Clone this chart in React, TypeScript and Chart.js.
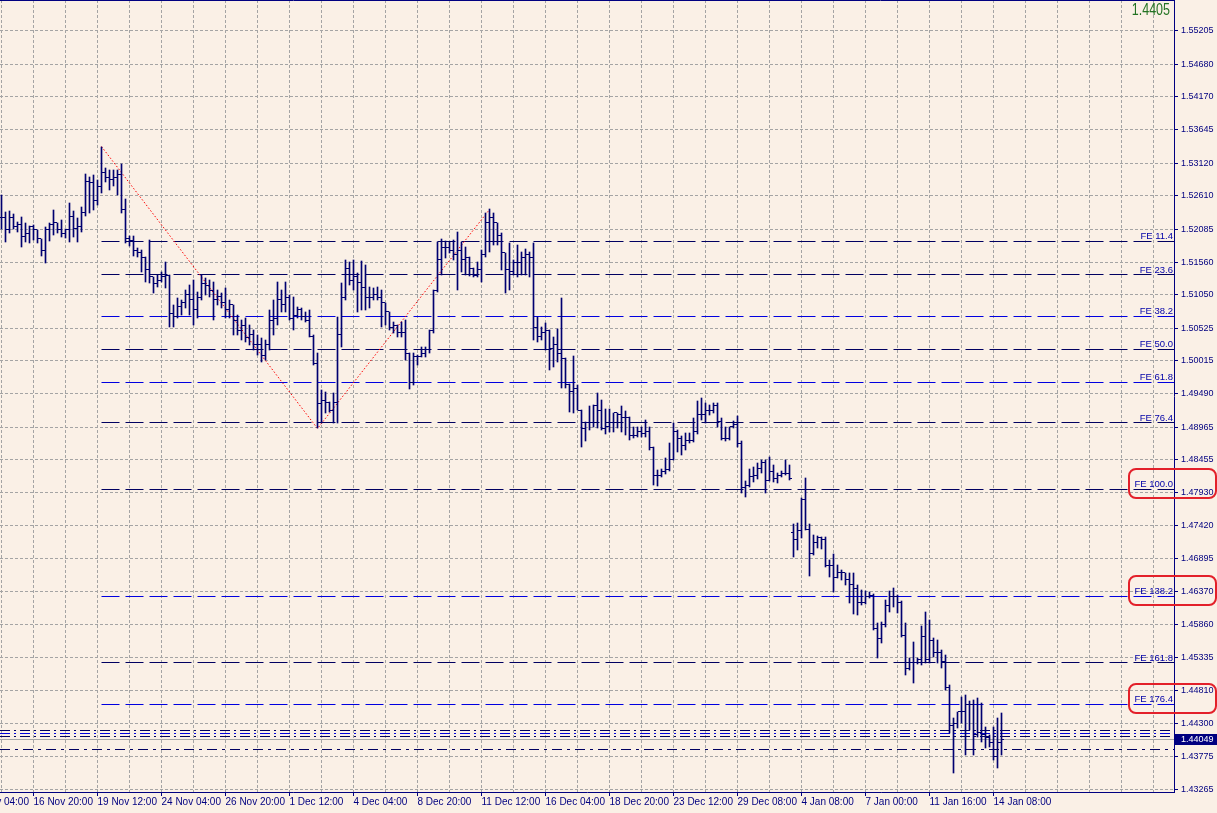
import React, { useEffect, useRef } from "react";
import { Chart, registerables } from "chart.js";

Chart.register(...registerables);

// ---------- data (H4 bars, oldest first) ----------
const opens: number[] = [
  1.5227, 1.5226, 1.5207, 1.5227, 1.5212, 1.5216, 1.5196, 1.5201, 1.5212, 1.5207,
  1.5193, 1.5174, 1.5207, 1.5215, 1.5218, 1.5207, 1.5202, 1.5207, 1.5229, 1.5210,
  1.5213, 1.5234, 1.5283, 1.5281, 1.5254, 1.5275, 1.5298, 1.5290, 1.5286, 1.5290,
  1.5294, 1.5240, 1.5193, 1.5191, 1.5174, 1.5171, 1.5163, 1.5144, 1.5133, 1.5123,
  1.5127, 1.5134, 1.5136, 1.5076, 1.5071, 1.5087, 1.5093, 1.5105, 1.5097, 1.5081,
  1.5100, 1.5123, 1.5119, 1.5112, 1.5097, 1.5103, 1.5093, 1.5081, 1.5089, 1.5065,
  1.5049, 1.5057, 1.5037, 1.5042, 1.5026, 1.5026, 1.5010, 1.5026, 1.5065, 1.5068,
  1.5097, 1.5089, 1.5101, 1.5068, 1.5073, 1.5081, 1.5071, 1.5065, 1.5040, 1.4996,
  1.4933, 1.4939, 1.4936, 1.4923, 1.4935, 1.5043, 1.5101, 1.5146, 1.5128, 1.5133,
  1.5125, 1.5116, 1.5101, 1.5101, 1.5105, 1.5101, 1.5092, 1.5078, 1.5054, 1.5056,
  1.5046, 1.5045, 1.5013, 1.4966, 1.5007, 1.5007, 1.5013, 1.5018, 1.5048, 1.5111,
  1.5160, 1.5179, 1.5180, 1.5175, 1.5169, 1.5175, 1.5160, 1.5164, 1.5146, 1.5136,
  1.5144, 1.5168, 1.5218, 1.5227, 1.5218, 1.5199, 1.5171, 1.5144, 1.5141, 1.5156,
  1.5156, 1.5163, 1.5168, 1.5163, 1.5054, 1.5040, 1.5045, 1.5049, 1.5021, 1.5026,
  1.5012, 1.5005, 1.4964, 1.4952, 1.4958, 1.4923, 1.4894, 1.4903, 1.4903, 1.4930,
  1.4923, 1.4895, 1.4897, 1.4903, 1.4919, 1.4916, 1.4911, 1.4911, 1.4884, 1.4884,
  1.4889, 1.4887, 1.4889, 1.4864, 1.4820, 1.4820, 1.4826, 1.4830, 1.4846, 1.4889,
  1.4878, 1.4868, 1.4875, 1.4876, 1.4890, 1.4916, 1.4916, 1.4923, 1.4923, 1.4931,
  1.4905, 1.4879, 1.4878, 1.4897, 1.4901, 1.4871, 1.4801, 1.4805, 1.4818, 1.4820,
  1.4832, 1.4840, 1.4813, 1.4826, 1.4816, 1.4820, 1.4824, 1.4824, 1.4731, 1.4719,
  1.4734, 1.4782, 1.4736, 1.4697, 1.4714, 1.4722, 1.4719, 1.4679, 1.4679, 1.4660,
  1.4667, 1.4667, 1.4656, 1.4648, 1.4643, 1.4620, 1.4621, 1.4629, 1.4632, 1.4580,
  1.4564, 1.4585, 1.4616, 1.4629, 1.4629, 1.4620, 1.4568, 1.4517, 1.4525, 1.4525,
  1.4530, 1.4566, 1.4530, 1.4561, 1.4542, 1.4541, 1.4527, 1.4487, 1.4427, 1.4430,
  1.4448, 1.4448, 1.4459, 1.4459, 1.4412, 1.4416, 1.4412, 1.4408, 1.4400, 1.4377,
  1.4400,
];

const highs: number[] = [
  1.5262, 1.5235, 1.5237, 1.5232, 1.5220, 1.5227, 1.5218, 1.5213, 1.5215, 1.5207,
  1.5193, 1.5212, 1.5218, 1.5238, 1.5218, 1.5223, 1.5209, 1.5250, 1.5237, 1.5226,
  1.5243, 1.5295, 1.5290, 1.5294, 1.5286, 1.5338, 1.5305, 1.5301, 1.5301, 1.5301,
  1.5311, 1.5256, 1.5198, 1.5198, 1.5179, 1.5175, 1.5164, 1.5191, 1.5133, 1.5136,
  1.5141, 1.5156, 1.5136, 1.5089, 1.5100, 1.5097, 1.5112, 1.5120, 1.5128, 1.5109,
  1.5136, 1.5131, 1.5128, 1.5125, 1.5112, 1.5108, 1.5116, 1.5097, 1.5089, 1.5073,
  1.5065, 1.5068, 1.5057, 1.5049, 1.5042, 1.5037, 1.5034, 1.5081, 1.5097, 1.5125,
  1.5112, 1.5125, 1.5105, 1.5101, 1.5086, 1.5084, 1.5078, 1.5081, 1.5042, 1.5013,
  1.4955, 1.4952, 1.4936, 1.4950, 1.5070, 1.5123, 1.5160, 1.5156, 1.5160, 1.5139,
  1.5158, 1.5152, 1.5117, 1.5116, 1.5117, 1.5112, 1.5092, 1.5078, 1.5062, 1.5057,
  1.5062, 1.5065, 1.5013, 1.5013, 1.5010, 1.5023, 1.5023, 1.5049, 1.5112, 1.5188,
  1.5193, 1.5190, 1.5188, 1.5191, 1.5204, 1.5188, 1.5180, 1.5164, 1.5147, 1.5156,
  1.5175, 1.5234, 1.5240, 1.5234, 1.5218, 1.5202, 1.5171, 1.5187, 1.5160, 1.5183,
  1.5172, 1.5177, 1.5172, 1.5187, 1.5070, 1.5054, 1.5060, 1.5049, 1.5038, 1.5051,
  1.5100, 1.5005, 1.4964, 1.5009, 1.4963, 1.4923, 1.4905, 1.4930, 1.4931, 1.4950,
  1.4939, 1.4925, 1.4925, 1.4919, 1.4919, 1.4930, 1.4922, 1.4912, 1.4897, 1.4897,
  1.4897, 1.4908, 1.4897, 1.4865, 1.4829, 1.4830, 1.4848, 1.4871, 1.4903, 1.4892,
  1.4882, 1.4887, 1.4887, 1.4911, 1.4938, 1.4942, 1.4935, 1.4931, 1.4935, 1.4935,
  1.4911, 1.4897, 1.4897, 1.4906, 1.4914, 1.4875, 1.4812, 1.4830, 1.4834, 1.4840,
  1.4845, 1.4845, 1.4849, 1.4837, 1.4824, 1.4827, 1.4845, 1.4837, 1.4744, 1.4746,
  1.4785, 1.4816, 1.4744, 1.4727, 1.4725, 1.4723, 1.4723, 1.4687, 1.4697, 1.4679,
  1.4671, 1.4667, 1.4667, 1.4667, 1.4648, 1.4640, 1.4638, 1.4637, 1.4634, 1.4588,
  1.4590, 1.4624, 1.4638, 1.4643, 1.4632, 1.4623, 1.4588, 1.4533, 1.4558, 1.4533,
  1.4583, 1.4605, 1.4593, 1.4564, 1.4561, 1.4545, 1.4538, 1.4490, 1.4438, 1.4448,
  1.4471, 1.4475, 1.4465, 1.4467, 1.4470, 1.4462, 1.4424, 1.4412, 1.4424, 1.4438,
  1.4446,
];

const lows: number[] = [
  1.5209, 1.5188, 1.5202, 1.5209, 1.5204, 1.5180, 1.5188, 1.5187, 1.5191, 1.5187,
  1.5166, 1.5155, 1.5190, 1.5199, 1.5202, 1.5196, 1.5194, 1.5188, 1.5196, 1.5188,
  1.5204, 1.5229, 1.5234, 1.5238, 1.5246, 1.5265, 1.5283, 1.5270, 1.5276, 1.5262,
  1.5234, 1.5187, 1.5182, 1.5166, 1.5164, 1.5141, 1.5125, 1.5123, 1.5108, 1.5117,
  1.5125, 1.5116, 1.5054, 1.5054, 1.5068, 1.5073, 1.5084, 1.5073, 1.5057, 1.5068,
  1.5097, 1.5105, 1.5101, 1.5065, 1.5089, 1.5084, 1.5068, 1.5068, 1.5042, 1.5042,
  1.5034, 1.5030, 1.5026, 1.5018, 1.5010, 1.4999, 1.5002, 1.5018, 1.5042, 1.5057,
  1.5078, 1.5078, 1.5065, 1.5049, 1.5068, 1.5065, 1.5062, 1.5038, 1.4994, 1.4895,
  1.4903, 1.4919, 1.4920, 1.4903, 1.4903, 1.5023, 1.5097, 1.5120, 1.5112, 1.5078,
  1.5081, 1.5081, 1.5084, 1.5097, 1.5097, 1.5054, 1.5057, 1.5049, 1.5045, 1.5038,
  1.5038, 1.5002, 1.4957, 1.4963, 1.4994, 1.5007, 1.5007, 1.5013, 1.5045, 1.5109,
  1.5136, 1.5163, 1.5171, 1.5160, 1.5112, 1.5141, 1.5136, 1.5134, 1.5133, 1.5133,
  1.5125, 1.5164, 1.5172, 1.5183, 1.5183, 1.5144, 1.5108, 1.5112, 1.5136, 1.5133,
  1.5136, 1.5136, 1.5133, 1.5034, 1.5030, 1.5034, 1.5018, 1.4986, 1.4991, 1.4999,
  1.4958, 1.4958, 1.4920, 1.4919, 1.4923, 1.4865, 1.4875, 1.4892, 1.4897, 1.4895,
  1.4892, 1.4886, 1.4889, 1.4889, 1.4895, 1.4889, 1.4884, 1.4876, 1.4879, 1.4881,
  1.4881, 1.4881, 1.4860, 1.4805, 1.4804, 1.4818, 1.4823, 1.4827, 1.4845, 1.4857,
  1.4853, 1.4860, 1.4871, 1.4873, 1.4886, 1.4908, 1.4903, 1.4916, 1.4919, 1.4897,
  1.4876, 1.4875, 1.4876, 1.4895, 1.4865, 1.4793, 1.4786, 1.4802, 1.4810, 1.4815,
  1.4824, 1.4793, 1.4812, 1.4810, 1.4809, 1.4818, 1.4821, 1.4813, 1.4692, 1.4703,
  1.4722, 1.4734, 1.4662, 1.4695, 1.4706, 1.4705, 1.4676, 1.4660, 1.4637, 1.4659,
  1.4656, 1.4648, 1.4620, 1.4602, 1.4601, 1.4616, 1.4618, 1.4627, 1.4577, 1.4533,
  1.4557, 1.4582, 1.4605, 1.4613, 1.4604, 1.4566, 1.4506, 1.4514, 1.4494, 1.4523,
  1.4522, 1.4525, 1.4525, 1.4534, 1.4525, 1.4517, 1.4482, 1.4415, 1.4352, 1.4423,
  1.4430, 1.4380, 1.4419, 1.4380, 1.4408, 1.4400, 1.4391, 1.4393, 1.4372, 1.4360,
  1.4380,
];

const closes: number[] = [
  1.5226, 1.5207, 1.5227, 1.5212, 1.5216, 1.5196, 1.5201, 1.5212, 1.5207, 1.5193,
  1.5174, 1.5207, 1.5215, 1.5218, 1.5207, 1.5202, 1.5207, 1.5229, 1.5210, 1.5213,
  1.5234, 1.5283, 1.5281, 1.5254, 1.5275, 1.5298, 1.5290, 1.5286, 1.5290, 1.5294,
  1.5240, 1.5193, 1.5191, 1.5174, 1.5171, 1.5163, 1.5144, 1.5133, 1.5123, 1.5127,
  1.5134, 1.5136, 1.5076, 1.5071, 1.5087, 1.5093, 1.5105, 1.5097, 1.5081, 1.5100,
  1.5123, 1.5119, 1.5112, 1.5097, 1.5103, 1.5093, 1.5081, 1.5089, 1.5065, 1.5049,
  1.5057, 1.5037, 1.5042, 1.5026, 1.5026, 1.5010, 1.5026, 1.5065, 1.5068, 1.5097,
  1.5089, 1.5101, 1.5068, 1.5073, 1.5081, 1.5071, 1.5065, 1.5040, 1.4996, 1.4933,
  1.4939, 1.4936, 1.4923, 1.4935, 1.5043, 1.5101, 1.5146, 1.5128, 1.5133, 1.5125,
  1.5116, 1.5101, 1.5101, 1.5105, 1.5101, 1.5092, 1.5078, 1.5054, 1.5056, 1.5046,
  1.5045, 1.5013, 1.4966, 1.5007, 1.5007, 1.5013, 1.5018, 1.5048, 1.5111, 1.5160,
  1.5179, 1.5180, 1.5175, 1.5169, 1.5175, 1.5160, 1.5164, 1.5146, 1.5136, 1.5144,
  1.5168, 1.5218, 1.5227, 1.5218, 1.5199, 1.5171, 1.5144, 1.5141, 1.5156, 1.5156,
  1.5163, 1.5168, 1.5163, 1.5054, 1.5040, 1.5045, 1.5049, 1.5021, 1.5026, 1.5012,
  1.5005, 1.4964, 1.4952, 1.4958, 1.4923, 1.4894, 1.4903, 1.4903, 1.4930, 1.4923,
  1.4895, 1.4897, 1.4903, 1.4919, 1.4916, 1.4911, 1.4911, 1.4884, 1.4884, 1.4889,
  1.4887, 1.4889, 1.4864, 1.4820, 1.4820, 1.4826, 1.4830, 1.4846, 1.4889, 1.4878,
  1.4868, 1.4875, 1.4876, 1.4890, 1.4916, 1.4916, 1.4923, 1.4923, 1.4931, 1.4905,
  1.4879, 1.4878, 1.4897, 1.4901, 1.4871, 1.4801, 1.4805, 1.4818, 1.4820, 1.4832,
  1.4840, 1.4813, 1.4826, 1.4816, 1.4820, 1.4824, 1.4824, 1.4816, 1.4719, 1.4734,
  1.4782, 1.4736, 1.4697, 1.4714, 1.4722, 1.4719, 1.4679, 1.4679, 1.4660, 1.4667,
  1.4667, 1.4656, 1.4648, 1.4643, 1.4620, 1.4621, 1.4629, 1.4632, 1.4580, 1.4564,
  1.4585, 1.4616, 1.4629, 1.4629, 1.4620, 1.4568, 1.4517, 1.4525, 1.4525, 1.4530,
  1.4566, 1.4530, 1.4561, 1.4542, 1.4541, 1.4527, 1.4487, 1.4427, 1.4430, 1.4448,
  1.4448, 1.4459, 1.4459, 1.4412, 1.4416, 1.4412, 1.4408, 1.4400, 1.4377, 1.4400,
  1.44049,
];

// time axis: bar index of each labelled tick and its text
const timeLabelBars: number[] = [-8, 8, 24, 40, 56, 72, 88, 104, 120, 136, 152, 168, 184, 200, 216, 232, 248];
const timeLabels: string[] = [
  "12 Nov 04:00", "16 Nov 20:00", "19 Nov 12:00", "24 Nov 04:00", "26 Nov 20:00", "1 Dec 12:00",
  "4 Dec 04:00", "8 Dec 20:00", "11 Dec 12:00", "16 Dec 04:00", "18 Dec 20:00", "23 Dec 12:00",
  "29 Dec 08:00", "4 Jan 08:00", "7 Jan 00:00", "11 Jan 16:00", "14 Jan 08:00",
];

// price axis labels
const priceTicks: number[] = [
  1.55205, 1.54680, 1.54170, 1.53645, 1.53120, 1.52610, 1.52085, 1.51560, 1.51050, 1.50525,
  1.50015, 1.49490, 1.48965, 1.48455, 1.47930, 1.47420, 1.46895, 1.46370, 1.45860, 1.45335,
  1.44810, 1.44300, 1.43775, 1.43265,
];

// Fibonacci expansion levels
const feNames: string[] = ["FE 11.4", "FE 23.6", "FE 38.2", "FE 50.0", "FE 61.8", "FE 76.4", "FE 100.0", "FE 138.2", "FE 161.8", "FE 176.4"];
const feLevels: number[] = [1.51896, 1.51361, 1.50715, 1.50195, 1.49675, 1.49030, 1.47990, 1.46305, 1.45250, 1.44604];
const feDark: boolean[] = [true, true, false, true, false, true, true, false, true, false];
const feStartBar = 25;
const feHighlighted: string[] = ["FE 100.0", "FE 138.2", "FE 176.4"];

// zigzag swing points (bar index, price)
const zigzagBars: number[] = [25, 79, 122];
const zigzagPrices: number[] = [1.5338, 1.4895, 1.5240];

// dash-dot horizontal lines near the current price
const clusterLevels: number[] = [1.44187, 1.44139, 1.44092];
const lowerLevel = 1.43891;
const currentPrice = 1.44049;
const topQuote = "1.4405";

// ---------- view ----------
const X_MIN = -0.375;
const X_MAX = 293.125;
const Y_MIN = 1.43218;
const Y_MAX = 1.55692;

const BG = "#FAF0E6";
const NAVY = "#000080";
const BAR_COLOR = "#000070";
const DARK_LINE = "#000060";
const LINE_BLUE = "#0000E0";
const LABEL_BLUE = "#0000A8";
const GRID = "#A4A4A4";
const CLEAR = "rgba(0,0,0,0)";
const FONT = '"Liberation Sans", Arial, sans-serif';

function roundRect(ctx: CanvasRenderingContext2D, x: number, y: number, w: number, h: number, r: number) {
  ctx.beginPath();
  ctx.moveTo(x + r, y);
  ctx.lineTo(x + w - r, y);
  ctx.arcTo(x + w, y, x + w, y + r, r);
  ctx.lineTo(x + w, y + h - r);
  ctx.arcTo(x + w, y + h, x + w - r, y + h, r);
  ctx.lineTo(x + r, y + h);
  ctx.arcTo(x, y + h, x, y + h - r, r);
  ctx.lineTo(x, y + r);
  ctx.arcTo(x, y, x + r, y, r);
  ctx.closePath();
}

const decorPlugin = {
  id: "mt4decor",
  beforeDraw(chart: any) {
    const { ctx, width, height } = chart;
    ctx.save();
    ctx.fillStyle = BG;
    ctx.fillRect(0, 0, width, height);
    ctx.restore();
  },
  // snap the library-computed element positions to whole pixels so 1px marks stay crisp
  afterDatasetsUpdate(chart: any) {
    chart.getSortedVisibleDatasetMetas().forEach((meta: any) => {
      meta.data.forEach((el: any) => {
        if (meta.type === "bar") {
          el.y = Math.round(el.y);
          el.base = Math.round(el.base);
        } else {
          el.y = Math.round(el.y - 0.5) + 0.5;
        }
      });
    });
  },
  afterDraw(chart: any) {
    const { ctx, chartArea: a, scales, width } = chart;
    const y = scales.y;
    ctx.save();
    // frame
    ctx.strokeStyle = NAVY;
    ctx.lineWidth = 1;
    ctx.beginPath();
    ctx.moveTo(0, 0.5);
    ctx.lineTo(a.right, 0.5);
    ctx.stroke();

    // FE labels
    ctx.font = "9.5px " + FONT;
    ctx.fillStyle = LABEL_BLUE;
    ctx.textAlign = "right";
    ctx.textBaseline = "alphabetic";
    feLevels.forEach((lv, k) => {
      const py = Math.round(y.getPixelForValue(lv));
      ctx.fillText(feNames[k], a.right - 1, py - 2);
    });

    // red highlight boxes
    ctx.strokeStyle = "#E3202A";
    ctx.lineWidth = 2;
    feHighlighted.forEach((name) => {
      const k = feNames.indexOf(name);
      const py = Math.round(y.getPixelForValue(feLevels[k]));
      roundRect(ctx, a.right - 45, py - 20, width - 1 - (a.right - 45), 29, 7);
      ctx.stroke();
    });

    // current price tag
    const cy = Math.round(y.getPixelForValue(currentPrice));
    ctx.fillStyle = NAVY;
    ctx.fillRect(a.right + 1, cy - 5, width - a.right - 1, 11);
    ctx.fillStyle = "#FFFFFF";
    ctx.font = "9px " + FONT;
    ctx.textAlign = "left";
    ctx.textBaseline = "middle";
    ctx.fillText(currentPrice.toFixed(5), a.right + 7, cy + 0.5);

    // top quote (narrowed)
    ctx.fillStyle = "#237323";
    ctx.font = "16px " + FONT;
    ctx.textAlign = "right";
    ctx.textBaseline = "top";
    ctx.translate(a.right - 4, 3);
    ctx.scale(0.78, 1);
    ctx.fillText(topQuote, 0, 0);
    ctx.restore();
  },
};

const zeroPadding = (s: any) => {
  s.paddingLeft = 0;
  s.paddingRight = 0;
  s.paddingTop = 0;
  s.paddingBottom = 0;
};

export default function App() {
  const ref = useRef<HTMLCanvasElement>(null);

  useEffect(() => {
    const canvas = ref.current;
    if (!canvas) return;
    const idx = closes.map((_, i) => i);
    const hLine = (level: number, from: number, color: string, dash: number[], label: string) => ({
      type: "line",
      label,
      data: [
        { x: from, y: level },
        { x: X_MAX, y: level },
      ],
      borderColor: color,
      borderWidth: 1,
      borderDash: dash,
      pointRadius: 0,
      fill: false,
      tension: 0,
    });

    const tickStyle = {
      type: "line",
      showLine: false,
      pointStyle: "line",
      pointRadius: 1,
      pointBorderWidth: 1,
      pointBorderColor: BAR_COLOR,
      pointBackgroundColor: BAR_COLOR,
      pointHoverRadius: 0,
    };

    const datasets: any[] = [
      {
        type: "bar",
        label: "range",
        data: idx.map((i) => ({ x: i, y: [lows[i], highs[i]] })),
        backgroundColor: BAR_COLOR,
        borderWidth: 0,
        barThickness: 1,
        grouped: false,
      },
      { ...tickStyle, label: "open", data: idx.map((i) => ({ x: i - 0.375, y: opens[i] })) },
      { ...tickStyle, label: "close", data: idx.map((i) => ({ x: i + 0.375, y: closes[i] })) },
      {
        type: "line",
        label: "zigzag",
        data: zigzagBars.map((b, k) => ({ x: b, y: zigzagPrices[k] })),
        borderColor: "#FF0000",
        borderWidth: 1,
        borderDash: [1.5, 2],
        pointRadius: 0,
        fill: false,
        tension: 0,
      },
      ...feLevels.map((lv, k) => hLine(lv, feStartBar, feDark[k] ? DARK_LINE : LINE_BLUE, [18, 6], feNames[k])),
      ...clusterLevels.map((lv, k) => hLine(lv, X_MIN, k === 1 ? LINE_BLUE : DARK_LINE, [10, 4, 2, 4], "cluster" + k)),
      hLine(lowerLevel, X_MIN, DARK_LINE, [10, 5, 3, 5], "lower"),
      hLine(currentPrice, X_MIN, "#A8A8A8", [], "bid"),
    ];

    const gridBars: number[] = [];
    for (let b = 0; b <= 288; b += 8) gridBars.push(b);
    const xTickValues = [timeLabelBars[0], ...gridBars];
    const isLabelled = (v: number) => timeLabelBars.indexOf(v) >= 0;

    const chart = new Chart(canvas, {
      type: "line",
      data: { datasets },
      plugins: [decorPlugin],
      options: {
        animation: false,
        responsive: false,
        devicePixelRatio: 1,
        events: [],
        layout: { padding: 0, autoPadding: false },
        plugins: { legend: { display: false }, tooltip: { enabled: false } },
        scales: {
          x: {
            type: "linear",
            position: "bottom",
            min: X_MIN,
            max: X_MAX,
            bounds: "data",
            offset: false,
            afterBuildTicks: (s: any) => {
              s.ticks = xTickValues.map((v) => ({ value: v }));
            },
            afterFit: (s: any) => {
              s.height = 21;
              zeroPadding(s);
            },
            grid: {
              offset: false,
              color: GRID,
              lineWidth: 1,
              drawTicks: true,
              tickLength: 4,
              tickWidth: 1,
              tickColor: (c: any) => (c.tick && isLabelled(c.tick.value) ? NAVY : CLEAR),
            },
            border: { display: true, color: NAVY, width: 1, dash: [3, 2] },
            ticks: {
              autoSkip: false,
              maxRotation: 0,
              minRotation: 0,
              align: "start",
              padding: 0,
              color: NAVY,
              font: { family: FONT, size: 10 },
              callback: (v: any) => {
                const k = timeLabelBars.indexOf(Number(v));
                return k >= 0 ? timeLabels[k] : "";
              },
            },
          },
          y: {
            type: "linear",
            position: "right",
            min: Y_MIN,
            max: Y_MAX,
            bounds: "data",
            afterBuildTicks: (s: any) => {
              s.ticks = [...priceTicks].sort((p, q) => p - q).map((v) => ({ value: v }));
            },
            afterFit: (s: any) => {
              s.width = 43;
              zeroPadding(s);
            },
            grid: {
              color: GRID,
              lineWidth: 1,
              drawTicks: true,
              tickLength: 4,
              tickWidth: 1,
              tickColor: NAVY,
            },
            border: { display: true, color: NAVY, width: 1, dash: [3, 2] },
            ticks: {
              autoSkip: false,
              padding: 3,
              color: NAVY,
              font: { family: FONT, size: 9 },
              callback: (v: any) => Number(v).toFixed(5),
            },
          },
        },
      } as any,
    } as any);

    return () => chart.destroy();
  }, []);

  return (
    <div style={{ position: "fixed", left: 0, top: 0, width: 1217, height: 813, background: BG }}>
      <canvas ref={ref} width={1217} height={813} style={{ display: "block", width: 1217, height: 813 }} />
    </div>
  );
}
